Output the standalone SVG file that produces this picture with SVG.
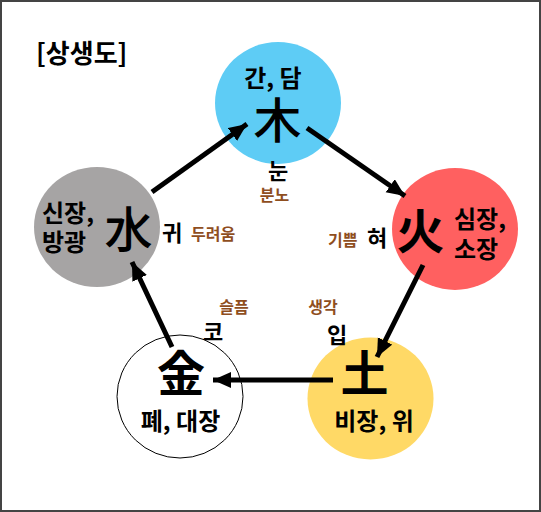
<svg xmlns="http://www.w3.org/2000/svg" width="541" height="512" viewBox="0 0 541 512">
<style>
text{font-family:"Noto Sans CJK KR","Noto Sans",sans-serif;fill:#000}
.lbl{font-size:24px;font-weight:bold}
.han{font-size:48px;text-anchor:middle}
.sense{font-size:22px;font-weight:bold;text-anchor:middle}
.emo{font-size:16px;font-weight:bold;fill:#8F4E1E}
.conn{stroke:#000;stroke-width:5;fill:none;marker-end:url(#ah)}
</style>
<defs>
<marker id="ah" markerUnits="userSpaceOnUse" markerWidth="20" markerHeight="18" refX="18" refY="8" orient="auto">
<path d="M0,0 L18,8 L0,16 Z" fill="#000"/>
</marker>
</defs>
<rect x="1" y="1" width="539" height="510" fill="#fff" stroke="#444" stroke-width="2"/>
<text id="title" x="36" y="63" style="font-size:26px;font-weight:bold">[상생도]</text>

<g id="wood">
<ellipse cx="278" cy="103" rx="63" ry="61" fill="#5ECCF5"/>
<text class="lbl" x="273" y="87" text-anchor="middle">간, 담</text>
<text class="han" x="277.5" y="138" font-weight="500">木</text>
<text class="sense" x="278" y="179">눈</text>
<text class="emo" x="274.5" y="201" text-anchor="middle">분노</text>
</g>

<g id="water">
<ellipse cx="97" cy="227" rx="63" ry="60" fill="#A6A4A4"/>
<text class="lbl" x="42" y="222">신장,</text>
<text class="lbl" x="42" y="251">방광</text>
<text class="han" x="128.5" y="247" font-weight="500">水</text>
<text class="sense" x="172" y="240.5">귀</text>
<text class="emo" x="191" y="239.5">두려움</text>
</g>

<g id="fire">
<ellipse cx="455" cy="229" rx="63" ry="61" fill="#FF6060"/>
<text class="han" x="420.5" y="249" font-weight="bold">火</text>
<text class="lbl" x="454" y="228">심장,</text>
<text class="lbl" x="454" y="258">소장</text>
<text class="sense" x="377" y="246">혀</text>
<text class="emo" x="328" y="246">기쁨</text>
</g>

<g id="metal">
<ellipse cx="180" cy="396.5" rx="63" ry="61.5" fill="#fff" stroke="#000" stroke-width="1"/>
<text class="han" x="181" y="391" font-weight="bold">金</text>
<text class="lbl" x="180.5" y="430" text-anchor="middle">폐, 대장</text>
<text class="sense" x="213" y="340">코</text>
<text class="emo" x="234" y="312.5" text-anchor="middle">슬픔</text>
</g>

<g id="earth">
<ellipse cx="370.5" cy="398.5" rx="63" ry="61" fill="#FFD966"/>
<text class="han" x="364.5" y="391" font-weight="bold">土</text>
<text class="lbl" x="374" y="430" text-anchor="middle">비장, 위</text>
<text class="sense" x="337" y="343">입</text>
<text class="emo" x="323" y="312.5" text-anchor="middle">생각</text>
</g>

<g id="connectors">
<line class="conn" x1="152" y1="192" x2="247" y2="124"/>
<line class="conn" x1="307" y1="128" x2="405" y2="196"/>
<line class="conn" x1="423" y1="265" x2="377" y2="357"/>
<line class="conn" x1="333" y1="380" x2="213" y2="380"/>
<line class="conn" x1="172" y1="347" x2="132" y2="262"/>
</g>
</svg>
